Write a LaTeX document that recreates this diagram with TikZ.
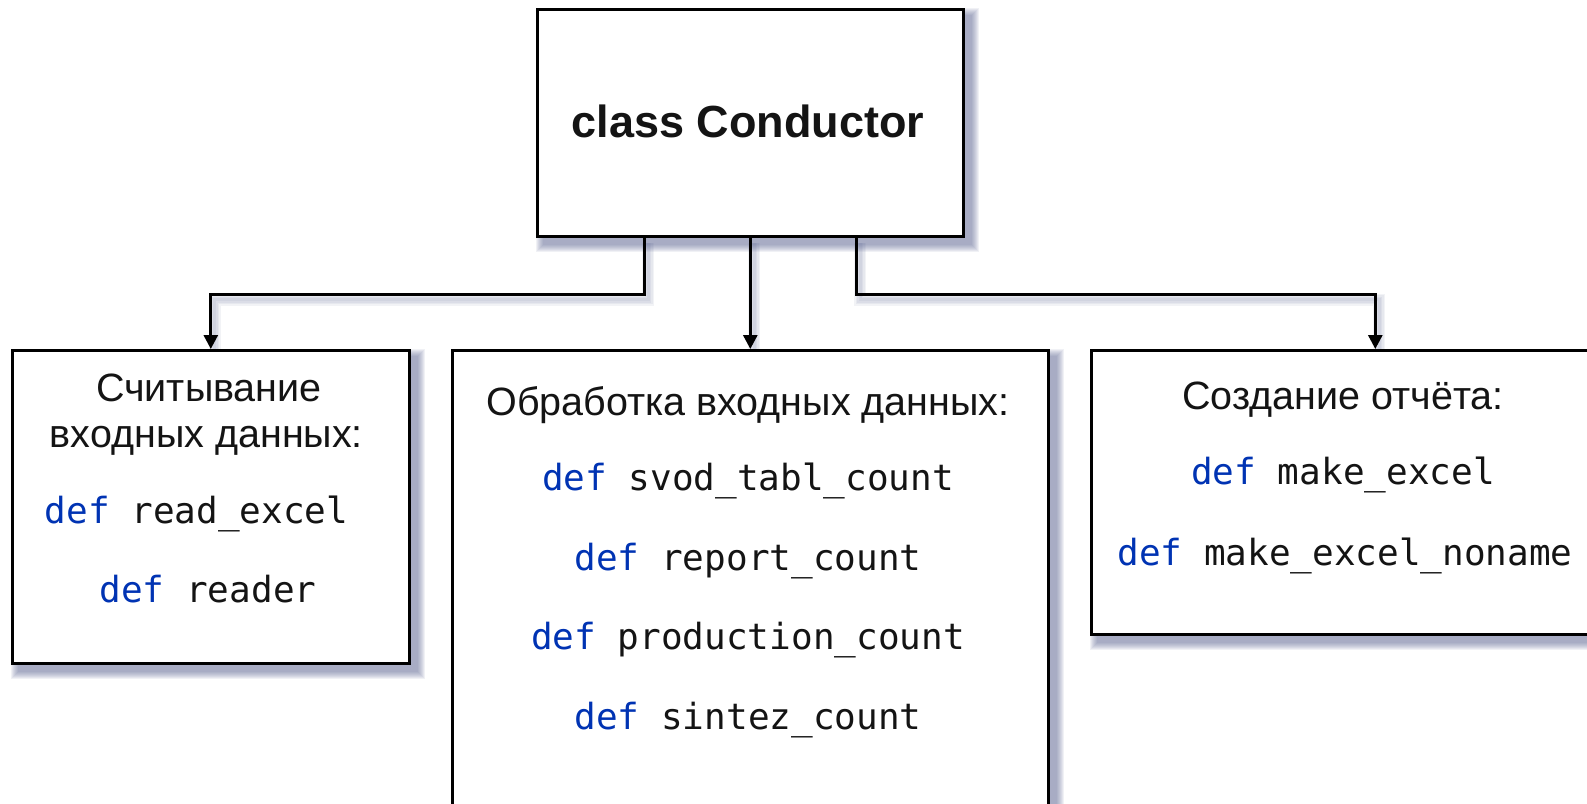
\documentclass[tikz,border=0pt]{standalone}
\usepackage{fontspec}
\setmainfont{Liberation Sans}
\newfontfamily\codefont{DejaVu Sans Mono}
\usetikzlibrary{arrows.meta,backgrounds}
\definecolor{kw}{HTML}{0033B3}
\definecolor{shadowc}{HTML}{5A6390}
\definecolor{txt}{HTML}{141414}
\begin{document}
\begin{tikzpicture}[x=1pt,y=-1pt,
  box/.style={draw=black, line width=2.6pt, fill=white, rectangle, inner sep=0pt, anchor=north west},
  lbl/.style={anchor=base, inner sep=0pt, font=\fontsize{39.5}{40}\selectfont, text=txt},
  code/.style={anchor=base, inner sep=0pt, font=\codefont\fontsize{36}{36}\selectfont, text=txt},
  ttl/.style={anchor=base, inner sep=0pt, font=\bfseries\fontsize{45}{45}\selectfont, text=txt},
  conn/.style={draw=black, line width=2.8pt},
  arr/.style={conn, -{Triangle[width=14pt,length=14pt]}},
  connshadow/.style={draw=shadowc, opacity=0.08, transform canvas={shift={(4pt,-5pt)}}},
]
\useasboundingbox (0,0) rectangle (1587,803);
\clip (0,0) rectangle (1587,803);

% boxes
\node[box, minimum width=426pt, minimum height=227pt] (top) at (536,8) {};
\node[box, minimum width=397pt, minimum height=313pt] (left) at (11,349) {};
\node[box, minimum width=596pt, minimum height=480pt] (mid) at (451,349) {};
\node[box, minimum width=520pt, minimum height=284pt] (right) at (1090,349) {};

% shadows
\begin{scope}[on background layer]
  \foreach \n in {top,left,mid,right}{
    \foreach \r in {7,6,5,4,3,2,1,0}{
      \fill[shadowc, opacity=0.09]
        ([shift={({7-\r},{7-\r})}]\n.north west) rectangle ([shift={({7+\r},{7+\r})}]\n.south east);
    }
  }
  \foreach \w in {12,9,6,3}{
    \draw[connshadow, line width=\w pt] ([xshift=-106pt]top.south) -- ++(0,57) -| (left.north);
    \draw[connshadow, line width=\w pt] (top.south) -- (mid.north);
    \draw[connshadow, line width=\w pt] ([xshift=106pt]top.south) -- ++(0,57) -| ([xshift=24pt]right.north);
  }
\end{scope}

% connectors
\draw[arr] ([xshift=-106pt]top.south) -- ++(0,57) -| (left.north);
\draw[arr] (top.south) -- (mid.north);
\draw[arr] ([xshift=106pt]top.south) -- ++(0,57) -| ([xshift=24pt]right.north);

% title
\node[ttl] (title) at (748,137) {class Conductor};

% left box texts
\node[lbl] (l1) at (209,401) {Считывание};
\node[lbl] (l2) at (206.5,447) {входных данных:};
\node[code] (l3) at (196.5,523) {\textcolor{kw}{def} read\_excel};
\node[code] (l4) at (208,602) {\textcolor{kw}{def} reader};

% middle box texts
\node[lbl] (m0) at (748,415) {Обработка входных данных:};
\node[code] (m1) at (748,490) {\textcolor{kw}{def} svod\_tabl\_count};
\node[code] (m2) at (748,570) {\textcolor{kw}{def} report\_count};
\node[code] (m3) at (748,649) {\textcolor{kw}{def} production\_count};
\node[code] (m4) at (748,729) {\textcolor{kw}{def} sintez\_count};

% right box texts
\node[lbl] (r0) at (1343,409) {Создание отчёта:};
\node[code] (r1) at (1343,484) {\textcolor{kw}{def} make\_excel};
\node[code] (r2) at (1345,565) {\textcolor{kw}{def} make\_excel\_noname};
\end{tikzpicture}
\end{document}
